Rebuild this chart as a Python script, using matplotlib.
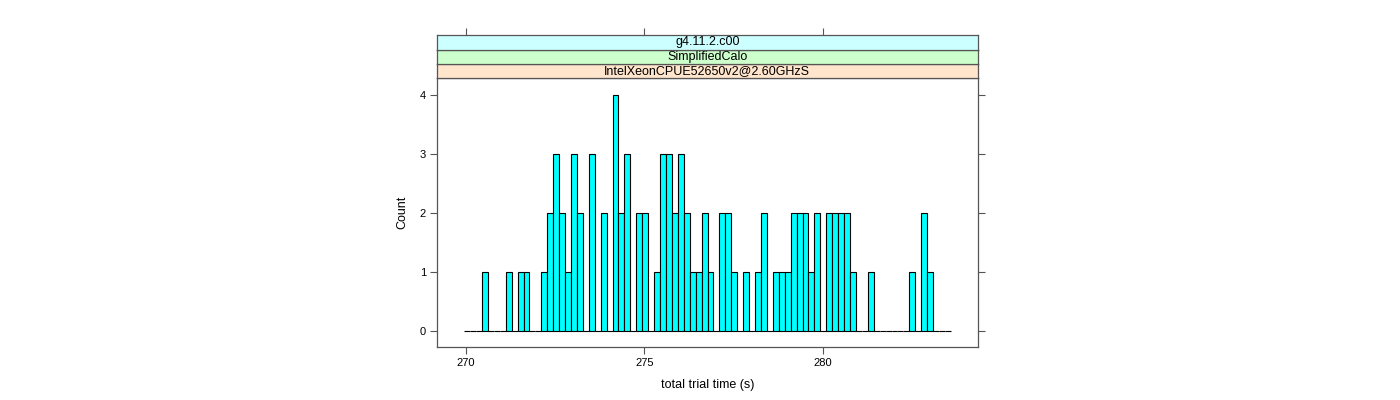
import numpy as np
import matplotlib.pyplot as plt

plt.rcParams['font.family'] = ['Liberation Sans', 'DejaVu Sans']

# histogram bins (seconds) and counts
bin_lo = 269.96
bin_hi = 283.58
counts = [0, 0, 0, 1, 0, 0, 0, 1, 0, 1, 1, 0, 0, 1, 2, 3, 2, 1, 3, 2,
          0, 3, 0, 2, 0, 4, 2, 3, 0, 2, 2, 0, 1, 3, 3, 2, 3, 2, 1, 1,
          2, 1, 0, 2, 2, 1, 0, 1, 0, 1, 2, 0, 1, 1, 1, 2, 2, 2, 1, 2,
          0, 2, 2, 2, 2, 1, 0, 0, 1, 0, 0, 0, 0, 0, 0, 1, 0, 2, 1, 0,
          0, 0]
strip_labels = ["IntelXeonCPUE52650v2@2.60GHzS", "SimplifiedCalo", "g4.11.2.c00"]
strip_colors = ["#ffe5cc", "#ccffcc", "#ccffff"]
x_ticks = [270, 275, 280]
y_ticks = [0, 1, 2, 3, 4]

edges = np.linspace(bin_lo, bin_hi, len(counts) + 1)
width = edges[1] - edges[0]
xlim = (269.2, 284.33)
frame_col = "#555555"

fig = plt.figure(figsize=(14, 4), dpi=100)
ax = fig.add_axes([437 / 1400, 1 - 347 / 400, 540.7 / 1400, 269 / 400])
ax.bar(edges[:-1], counts, width=width, align='edge', color='#00ffff',
       edgecolor='black', linewidth=0.8)
ax.set_xlim(*xlim)
ax.set_ylim(-0.27, 4.28)
ax.set_xticks(x_ticks)
ax.set_yticks(y_ticks)
ax.tick_params(direction='out', length=5, width=0.8, color=frame_col,
               labelsize=8, right=True, top=False, pad=3)
for s in ax.spines.values():
    s.set_color(frame_col)
    s.set_linewidth(0.9)
ax.set_xlabel("total trial time (s)", fontsize=9, labelpad=8)
ax.set_ylabel("Count", fontsize=9, labelpad=8)

# strips stacked above the panel
strip_h = 14.2
for i, (lab, col) in enumerate(zip(strip_labels, strip_colors)):
    top_px = 78 - strip_h * i
    sax = fig.add_axes([437 / 1400, 1 - top_px / 400, 540.7 / 1400, strip_h / 400])
    sax.set_facecolor(col)
    sax.set_xlim(*xlim)
    sax.set_ylim(0, 1)
    sax.set_yticks([])
    for s in sax.spines.values():
        s.set_color(frame_col)
        s.set_linewidth(0.9)
    if i == len(strip_labels) - 1:
        sax.set_xticks(x_ticks)
        sax.tick_params(axis='x', direction='out', length=5, width=0.8,
                        color=frame_col, top=True, bottom=False,
                        labeltop=False, labelbottom=False)
    else:
        sax.set_xticks([])
    sax.text(0.5, 0.5, lab, transform=sax.transAxes, ha='center',
             va='center', fontsize=9)

fig.savefig("out.png", dpi=100)
